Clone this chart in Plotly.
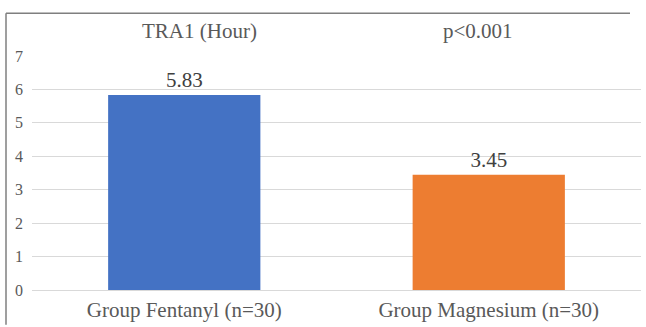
import plotly.graph_objects as go

categories = ["Group Fentanyl (n=30)", "Group Magnesium (n=30)"]
values = [5.83, 3.45]
value_labels = ["5.83", "3.45"]
bar_colors = ["#4472C4", "#ED7D31"]
header_texts = ["TRA1 (Hour)", "p<0.001"]
y_ticks = [0, 1, 2, 3, 4, 5, 6, 7]

SERIF = "Liberation Serif"

W, H = 646, 327
ml, mr, mt, mb = 32, 5, 56, 35
pw = W - ml - mr
ph = H - mt - mb

def px_to_paper_x(px):
    return (px - ml) / pw

def px_to_paper_y(py):
    return (H - mb - py) / ph

fig = go.Figure()
fig.add_trace(go.Bar(
    x=categories,
    y=values,
    marker=dict(color=bar_colors, line=dict(width=0)),
    text=value_labels,
    textposition="outside",
    textfont=dict(family=SERIF, size=21, color="#404040"),
    cliponaxis=False,
    hoverinfo="skip",
))

fig.update_layout(
    width=W, height=H,
    autosize=False,
    margin=dict(l=ml, r=mr, t=mt, b=mb, pad=0),
    paper_bgcolor="white",
    plot_bgcolor="white",
    showlegend=False,
    bargap=0.5,
    font=dict(family=SERIF, color="#595959"),
)

fig.update_yaxes(
    range=[0, 7],
    tickvals=y_ticks,
    ticktext=[str(v) for v in y_ticks],
    showgrid=True,
    gridcolor="#D9D9D9",
    gridwidth=1,
    zeroline=True,
    zerolinecolor="#D9D9D9",
    zerolinewidth=1,
    showline=False,
    ticks="",
    ticklabelstandoff=8,
    tickfont=dict(family=SERIF, size=16, color="#595959"),
    fixedrange=True,
)
fig.update_xaxes(
    showgrid=False,
    zeroline=False,
    showline=False,
    ticks="",
    ticklabelstandoff=5,
    tickfont=dict(family=SERIF, size=21, color="#595959"),
    fixedrange=True,
)

header_x_px = [199.5, 478]
for txt, xp in zip(header_texts, header_x_px):
    fig.add_annotation(
        text=txt,
        xref="paper", yref="paper",
        x=px_to_paper_x(xp), y=px_to_paper_y(31),
        xanchor="center", yanchor="middle",
        showarrow=False,
        font=dict(family=SERIF, size=21, color="#595959"),
    )

# outer frame: only top and left edges are visible in the crop
frame = dict(color="#7F7F7F", width=1.5)
fig.add_shape(type="line", xref="paper", yref="paper",
              x0=px_to_paper_x(6), x1=px_to_paper_x(630),
              y0=px_to_paper_y(13), y1=px_to_paper_y(13),
              line=frame, layer="above")
fig.add_shape(type="line", xref="paper", yref="paper",
              x0=px_to_paper_x(6), x1=px_to_paper_x(6),
              y0=px_to_paper_y(13), y1=px_to_paper_y(H),
              line=frame, layer="above")

fig.write_html(
    "out.html",
    config={"displayModeBar": False, "staticPlot": True},
    post_script="document.body.style.margin='0px';document.body.style.overflow='hidden';",
)
